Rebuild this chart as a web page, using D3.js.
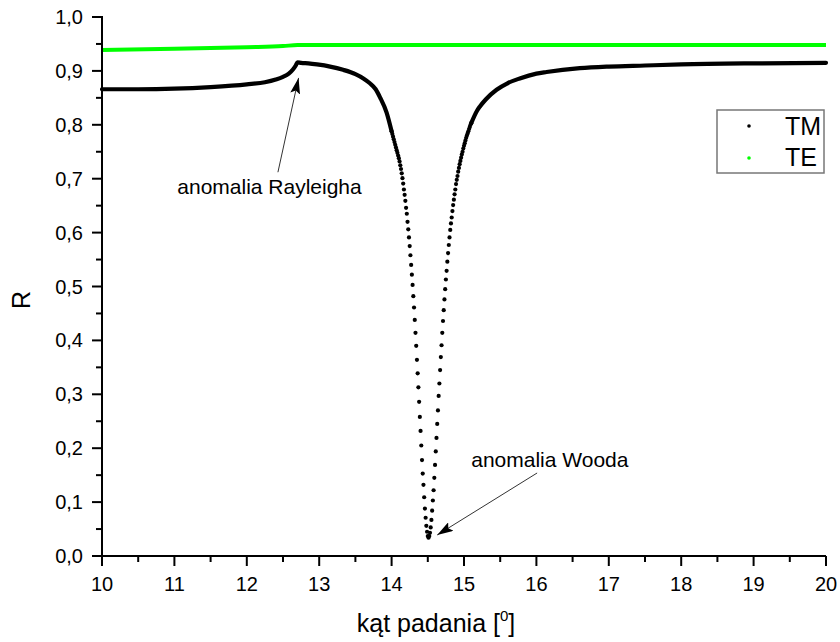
<!DOCTYPE html>
<html>
<head>
<meta charset="utf-8">
<script src="https://cdn.jsdelivr.net/npm/d3@7"></script>
<style>
  html, body { margin: 0; padding: 0; background: #fff; }
  svg { display: block; font-family: "Liberation Sans", Arial, sans-serif; }
</style>
</head>
<body>
<svg id="chart" width="840" height="642"></svg>
<script>
// ---------- data ----------
const xTicks = [10, 11, 12, 13, 14, 15, 16, 17, 18, 19, 20];
const xMinorTicks = [10.5, 11.5, 12.5, 13.5, 14.5, 15.5, 16.5, 17.5, 18.5, 19.5];
const yTicks = [0, 0.1, 0.2, 0.3, 0.4, 0.5, 0.6, 0.7, 0.8, 0.9, 1.0];
const yTickLabels = ["0,0", "0,1", "0,2", "0,3", "0,4", "0,5", "0,6", "0,7", "0,8", "0,9", "1,0"];
const yMinorTicks = [0.05, 0.15, 0.25, 0.35, 0.45, 0.55, 0.65, 0.75, 0.85, 0.95];

// TM: smooth (dense, merged points) part on the left, incl. Rayleigh anomaly
const tmLeftX = [10, 10.5, 11, 11.5, 12, 12.25, 12.4, 12.5, 12.58, 12.64, 12.68, 12.70, 12.75, 12.85, 12.97, 13.15, 13.33, 13.5, 13.61, 13.7, 13.78, 13.84, 13.93, 14.0];
const tmLeftR = [0.866, 0.866, 0.867, 0.870, 0.875, 0.879, 0.884, 0.889, 0.895, 0.903, 0.911, 0.916, 0.915, 0.914, 0.912, 0.908, 0.902, 0.894, 0.886, 0.877, 0.866, 0.851, 0.823, 0.788];

// TM: Wood anomaly dip, individual points (step 0.01)
const tmDipX = [14.00,14.01,14.02,14.03,14.04,14.05,14.06,14.07,14.08,14.09,
  14.10,14.11,14.12,14.13,14.14,14.15,14.16,14.17,14.18,14.19,
  14.20,14.21,14.22,14.23,14.24,14.25,14.26,14.27,14.28,14.29,
  14.30,14.31,14.32,14.33,14.34,14.35,14.36,14.37,14.38,14.39,
  14.40,14.41,14.42,14.43,14.44,14.45,14.46,14.47,14.48,14.49,
  14.50,14.51,14.52,14.53,14.54,14.55,14.56,14.57,14.58,14.59,
  14.60,14.61,14.62,14.63,14.64,14.65,14.66,14.67,14.68,14.69,
  14.70,14.71,14.72,14.73,14.74,14.75,14.76,14.77,14.78,14.79,
  14.80,14.81,14.82,14.83,14.84,14.85,14.86,14.87,14.88,14.89,
  14.90,14.91,14.92,14.93,14.94,14.95,14.96,14.97,14.98,14.99,
  15.00,15.01,15.02,15.03,15.04,15.05,15.06,15.07,15.08,15.09,15.10];
const tmDipR = [0.788,0.783,0.778,0.773,0.768,0.763,0.758,0.753,0.748,0.743,
  0.738,0.732,0.725,0.718,0.710,0.701,0.691,0.680,0.670,0.659,
  0.646,0.635,0.620,0.606,0.591,0.575,0.558,0.540,0.522,0.503,
  0.482,0.461,0.438,0.414,0.390,0.364,0.339,0.313,0.286,0.258,
  0.232,0.205,0.178,0.153,0.132,0.109,0.088,0.071,0.056,0.045,
  0.037,0.034,0.037,0.043,0.053,0.067,0.084,0.103,0.122,0.145,
  0.169,0.194,0.219,0.245,0.270,0.297,0.320,0.345,0.369,0.391,
  0.414,0.436,0.456,0.476,0.495,0.513,0.529,0.546,0.562,0.577,
  0.591,0.605,0.617,0.628,0.640,0.651,0.661,0.671,0.680,0.690,
  0.698,0.705,0.713,0.720,0.727,0.733,0.739,0.745,0.750,0.756,
  0.761,0.766,0.771,0.776,0.780,0.784,0.788,0.792,0.796,0.800,0.803];

// TM: smooth right part
const tmRightX = [15.10, 15.18, 15.22, 15.3, 15.45, 15.6, 15.77, 16.0, 16.14, 16.6, 17, 17.5, 18, 19, 20];
const tmRightR = [0.803, 0.826, 0.834, 0.847, 0.865, 0.877, 0.886, 0.895, 0.898, 0.905, 0.908, 0.910, 0.912, 0.914, 0.915];

// TE
const teX = [10, 11, 12, 12.5, 12.7, 13, 14, 16, 18, 20];
const teR = [0.939, 0.941, 0.944, 0.946, 0.948, 0.948, 0.948, 0.948, 0.948, 0.948];

const seriesNames = ["TM", "TE"];
const seriesColors = ["#000000", "#00ff00"];

// annotations (data coordinates)
const annotations = [
  { text: "anomalia Rayleigha", tx: 11.04, tr: 0.672, fromX: 12.43, fromR: 0.712, toX: 12.715, toR: 0.887 },
  { text: "anomalia Wooda", tx: 15.10, tr: 0.165, fromX: 16.01, fromR: 0.154, toX: 14.63, toR: 0.039 }
];

// ---------- drawing ----------
const svg = d3.select("#chart");
const L = 102, Rt = 826, T = 17, B = 556;
const x = d3.scaleLinear().domain([10, 20]).range([L, Rt]);
const y = d3.scaleLinear().domain([0, 1]).range([B, T]);

// defs: arrow marker
svg.append("defs").append("marker")
  .attr("id", "arrow").attr("markerUnits", "userSpaceOnUse")
  .attr("viewBox", "0 0 16 10").attr("refX", 16).attr("refY", 5)
  .attr("markerWidth", 16).attr("markerHeight", 10).attr("orient", "auto")
  .append("path").attr("d", "M0,0 L16,5 L0,10 L3,5 Z").attr("fill", "#000");

// TE line
const teData = teX.map((d, i) => [d, teR[i]]);
svg.append("path").datum(teData)
  .attr("fill", "none").attr("stroke", seriesColors[1]).attr("stroke-width", 4)
  .attr("d", d3.line().x(d => x(d[0])).y(d => y(d[1])).curve(d3.curveMonotoneX));

// TM smooth parts
const lineGen = d3.line().x(d => x(d[0])).y(d => y(d[1])).curve(d3.curveMonotoneX);
[[tmLeftX, tmLeftR], [tmRightX, tmRightR]].forEach(([xs, rs]) => {
  svg.append("path").datum(xs.map((d, i) => [d, rs[i]]))
    .attr("fill", "none").attr("stroke", seriesColors[0]).attr("stroke-width", 4.2)
    .attr("stroke-linejoin", "round").attr("stroke-linecap", "round")
    .attr("d", lineGen);
});

// TM dip points
svg.append("g").selectAll("circle").data(tmDipX.map((d, i) => [d, tmDipR[i]]))
  .join("circle")
  .attr("cx", d => x(d[0])).attr("cy", d => y(d[1])).attr("r", 2.1)
  .attr("fill", seriesColors[0]);

// axes
const xAxis = svg.append("g").attr("transform", `translate(0,${B})`);
xAxis.append("line").attr("x1", L).attr("x2", Rt).attr("stroke", "#000").attr("stroke-width", 2);
xAxis.selectAll(".maj").data(xTicks).join("line")
  .attr("x1", d => x(d)).attr("x2", d => x(d)).attr("y1", 0).attr("y2", 10)
  .attr("stroke", "#000").attr("stroke-width", 2);
xAxis.selectAll(".min").data(xMinorTicks).join("line")
  .attr("x1", d => x(d)).attr("x2", d => x(d)).attr("y1", 0).attr("y2", 6)
  .attr("stroke", "#000").attr("stroke-width", 2);
xAxis.selectAll("text").data(xTicks).join("text")
  .attr("x", d => x(d)).attr("y", 35).attr("text-anchor", "middle")
  .attr("font-size", 20).attr("fill", "#000").text(d => d);

const yAxis = svg.append("g").attr("transform", `translate(${L},0)`);
yAxis.append("line").attr("y1", T - 1).attr("y2", B + 1).attr("stroke", "#000").attr("stroke-width", 2);
yAxis.selectAll(".maj").data(yTicks).join("line")
  .attr("y1", d => y(d)).attr("y2", d => y(d)).attr("x1", 0).attr("x2", -10)
  .attr("stroke", "#000").attr("stroke-width", 2);
yAxis.selectAll(".min").data(yMinorTicks).join("line")
  .attr("y1", d => y(d)).attr("y2", d => y(d)).attr("x1", 0).attr("x2", -6)
  .attr("stroke", "#000").attr("stroke-width", 2);
yAxis.selectAll("text").data(yTicks).join("text")
  .attr("x", -19).attr("y", d => y(d)).attr("dy", "0.35em").attr("text-anchor", "end")
  .attr("font-size", 20).attr("fill", "#000").text((d, i) => yTickLabels[i]);

// axis titles
const xt = svg.append("text").attr("x", 436).attr("y", 632).attr("text-anchor", "middle")
  .attr("font-size", 25).attr("fill", "#000");
xt.append("tspan").text("kąt padania [");
xt.append("tspan").attr("font-size", 15).attr("dy", -11).text("0");
xt.append("tspan").attr("dy", 11).text("]");

svg.append("text").attr("transform", "translate(30,300) rotate(-90)")
  .attr("text-anchor", "middle").attr("font-size", 25).attr("fill", "#000").text("R");

// annotations
annotations.forEach(a => {
  svg.append("line")
    .attr("x1", x(a.fromX)).attr("y1", y(a.fromR)).attr("x2", x(a.toX)).attr("y2", y(a.toR))
    .attr("stroke", "#333").attr("stroke-width", 1).attr("marker-end", "url(#arrow)");
  svg.append("text").attr("x", x(a.tx)).attr("y", y(a.tr))
    .attr("font-size", 21).attr("fill", "#000").text(a.text);
});

// legend
const lg = svg.append("g");
lg.append("rect").attr("x", 717).attr("y", 110).attr("width", 107).attr("height", 63)
  .attr("fill", "#fff").attr("stroke", "#777").attr("stroke-width", 1.5);
seriesNames.forEach((n, i) => {
  lg.append("circle").attr("cx", 749).attr("cy", 126 + i * 32).attr("r", 1.8).attr("fill", seriesColors[i]);
  lg.append("text").attr("x", 785).attr("y", 135 + i * 31).attr("font-size", 25).attr("fill", "#000").text(n);
});
</script>
</body>
</html>
